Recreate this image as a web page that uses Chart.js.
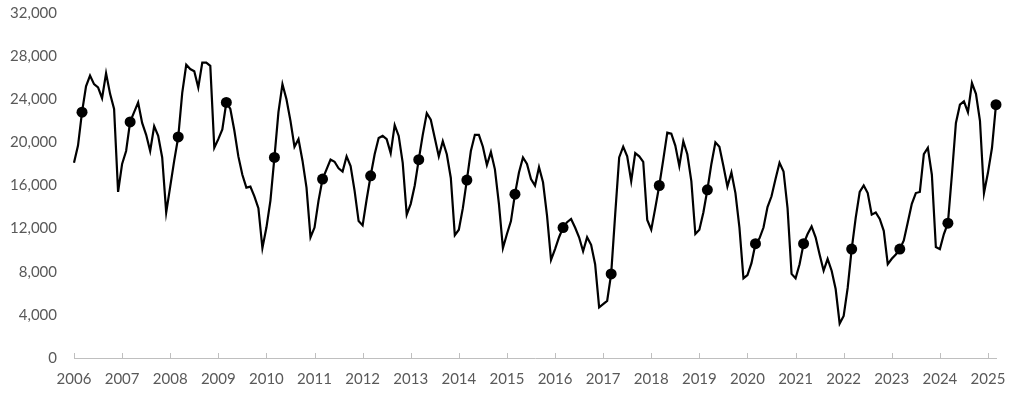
<!DOCTYPE html>
<html>
<head>
<meta charset="utf-8">
<script src="https://cdn.jsdelivr.net/npm/chart.js@4.4.1/dist/chart.umd.min.js"></script>
<style>
  body { margin: 0; background: #fff; }
  canvas { display: block; }
</style>
</head>
<body>
<canvas id="chart" width="1024" height="396"></canvas>
<script>
// Monthly series, Jan 2006 .. Mar 2025
const startYear = 2006;
const markerMonth = 2; // March gets a dot each year
const yTicks = [0, 4000, 8000, 12000, 16000, 20000, 24000, 28000, 32000];

const monthly = [
    18100, 19700, 22800, 25200, 26200, 25400, 25100, 24100, 26400, 24500, 23100, 15400, // 2006
    18000, 19200, 21900, 22800, 23700, 21800, 20700, 19200, 21500, 20600, 18600, 13500, // 2007
    15900, 18300, 20500, 24600, 27200, 26800, 26600, 25100, 27400, 27400, 27100, 19500, // 2008
    20300, 21200, 23700, 23100, 21100, 18700, 17000, 15800, 15900, 15000, 13900, 10200, // 2009
    12100, 14600, 18600, 22800, 25400, 24000, 22000, 19600, 20300, 18300, 15800, 11200, // 2010
    12100, 14600, 16600, 17500, 18400, 18200, 17600, 17300, 18700, 17800, 15500, 12700, // 2011
    12300, 14700, 16900, 18900, 20400, 20600, 20300, 19000, 21600, 20600, 18100, 13300, // 2012
    14300, 16000, 18400, 20700, 22700, 22100, 20400, 18700, 20100, 18900, 16700, 11400, // 2013
    11900, 13900, 16500, 19200, 20700, 20700, 19600, 17900, 19100, 17500, 14300, 10200, // 2014
    11500, 12700, 15200, 17200, 18600, 18000, 16600, 16000, 17700, 16300, 13200, 9100,  // 2015
    10100, 11200, 12100, 12600, 12900, 12100, 11200, 9900, 11200, 10500, 8700, 4700,     // 2016
    5000, 5300, 7800, 13300, 18600, 19600, 18700, 16400, 19000, 18700, 18200, 12800,     // 2017
    11900, 13900, 16000, 18400, 20900, 20800, 19700, 17800, 20100, 18900, 16400, 11500, // 2018
    11900, 13500, 15600, 18000, 20000, 19600, 17800, 15900, 17200, 15300, 12100, 7400,  // 2019
    7700, 8800, 10600, 11100, 12100, 14000, 15000, 16600, 18100, 17300, 13900, 7800,    // 2020
    7400, 8700, 10600, 11500, 12200, 11200, 9600, 8100, 9200, 8100, 6400, 3200,         // 2021
    3900, 6500, 10100, 13000, 15400, 16000, 15300, 13300, 13500, 12900, 11800, 8700,    // 2022
    9200, 9600, 10100, 10900, 12600, 14300, 15300, 15400, 18900, 19500, 17000, 10300,   // 2023
    10100, 11500, 12500, 17000, 21800, 23500, 23800, 22800, 25500, 24500, 22000, 15300, // 2024
    17200, 19500, 23500                                                                 // 2025
];

const points = monthly.map((v, i) => ({ x: startYear + i / 12, y: v }));
const lastX = startYear + (monthly.length - 1) / 12;

// Excel-style inward tick marks on the category axis
const innerTicks = {
    id: 'innerTicks',
    afterDraw(chart) {
        const xs = chart.scales.x;
        const c = chart.ctx;
        const y0 = chart.chartArea.bottom;
        c.save();
        c.strokeStyle = '#bfbfbf';
        c.lineWidth = 1;
        xs.ticks.forEach(t => {
            const px = Math.round(xs.getPixelForValue(t.value)) + 0.5;
            c.beginPath();
            c.moveTo(px, y0);
            c.lineTo(px, y0 - 5);
            c.stroke();
        });
        c.restore();
    }
};

const ctx = document.getElementById('chart').getContext('2d');
new Chart(ctx, {
    type: 'line',
    data: {
        datasets: [{
            data: points,
            borderColor: '#000',
            borderWidth: 2.2,
            tension: 0,
            clip: false,
            pointRadius: c => (c.dataIndex % 12 === markerMonth ? 5.5 : 0),
            pointBackgroundColor: '#000',
            pointBorderWidth: 0,
            pointHoverRadius: 0
        }]
    },
    options: {
        responsive: false,
        animation: false,
        layout: { autoPadding: false, padding: { top: 13, right: 28, bottom: 0, left: 0 } },
        plugins: {
            legend: { display: false },
            tooltip: { enabled: false }
        },
        scales: {
            x: {
                type: 'linear',
                min: startYear,
                max: lastX,
                grid: { display: false, drawTicks: false },
                border: { display: true, color: '#bfbfbf', width: 1 },
                ticks: {
                    stepSize: 1,
                    includeBounds: false,
                    autoSkip: false,
                    maxRotation: 0,
                    padding: 12,
                    color: '#595959',
                    font: { family: 'Lato', size: 15 },
                    callback: v => String(v)
                },
                afterFit: s => { s.height = 38; }
            },
            y: {
                min: 0,
                max: 32000,
                grid: { display: false, drawTicks: false },
                border: { display: false },
                afterBuildTicks: s => { s.ticks = yTicks.map(v => ({ value: v })); },
                ticks: {
                    padding: 17,
                    color: '#595959',
                    font: { family: 'Lato', size: 15 },
                    callback: v => v.toLocaleString('en-US')
                },
                afterFit: s => {
                    s.width = 74;
                    s.paddingTop = 0;
                    s.paddingBottom = 0;
                }
            }
        }
    },
    plugins: [innerTicks]
});
</script>
</body>
</html>
